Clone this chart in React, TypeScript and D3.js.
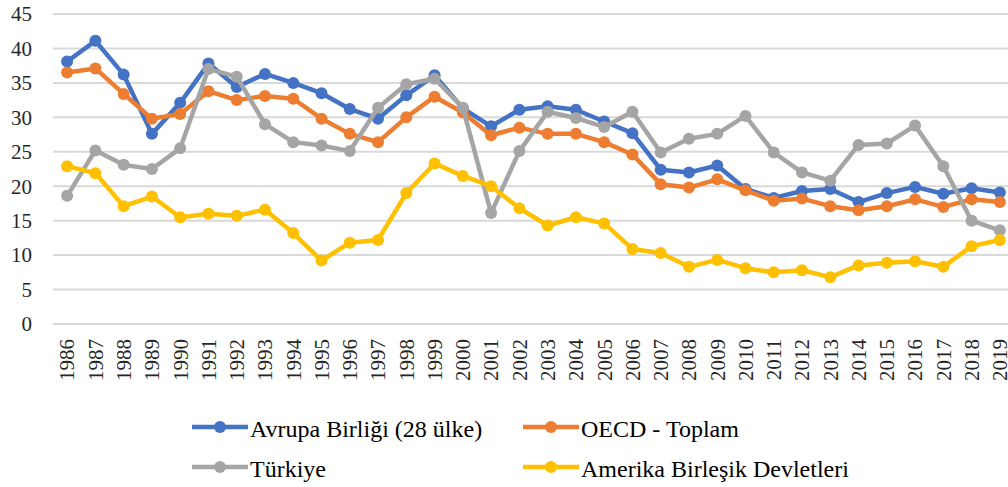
import React, { useEffect, useRef } from 'react';
import * as d3 from 'd3';

const years = [
    '1986', '1987', '1988', '1989', '1990', '1991', '1992', '1993', '1994', '1995',
    '1996', '1997', '1998', '1999', '2000', '2001', '2002', '2003', '2004', '2005',
    '2006', '2007', '2008', '2009', '2010', '2011', '2012', '2013', '2014', '2015',
    '2016', '2017', '2018', '2019'
];

const yTicks = [0, 5, 10, 15, 20, 25, 30, 35, 40, 45];

const avrupa = [38.1, 41.1, 36.2, 27.6, 32.1, 37.8, 34.4, 36.3, 35.0, 33.5, 31.2, 29.8, 33.2, 36.1, 31.3, 28.7, 31.1, 31.6, 31.1, 29.4, 27.7, 22.4, 22.0, 23.0, 19.6, 18.3, 19.3, 19.6, 17.7, 19.0, 19.9, 18.9, 19.7, 19.1];
const oecd = [36.5, 37.1, 33.4, 29.8, 30.5, 33.8, 32.5, 33.1, 32.7, 29.8, 27.6, 26.4, 30.0, 33.0, 30.7, 27.4, 28.5, 27.6, 27.6, 26.4, 24.6, 20.3, 19.8, 21.0, 19.4, 17.9, 18.2, 17.1, 16.5, 17.1, 18.1, 17.0, 18.1, 17.7];
const turkiye = [18.6, 25.2, 23.1, 22.5, 25.5, 37.0, 35.9, 29.0, 26.4, 25.9, 25.1, 31.4, 34.8, 35.6, 31.4, 16.1, 25.1, 30.8, 29.9, 28.6, 30.8, 24.9, 26.9, 27.6, 30.2, 24.9, 22.0, 20.8, 26.0, 26.2, 28.8, 22.9, 15.0, 13.6];
const abd = [22.9, 21.9, 17.1, 18.5, 15.5, 16.0, 15.7, 16.6, 13.2, 9.2, 11.8, 12.2, 19.0, 23.3, 21.5, 20.0, 16.8, 14.3, 15.5, 14.6, 10.9, 10.3, 8.3, 9.3, 8.1, 7.5, 7.8, 6.8, 8.5, 8.9, 9.1, 8.3, 11.3, 12.2];

const seriesNames = ['Avrupa Birliği (28 ülke)', 'OECD - Toplam', 'Türkiye', 'Amerika Birleşik Devletleri'];
const seriesColors = ['#4472C4', '#ED7D31', '#A5A5A5', '#FFC000'];

const WIDTH = 1008;
const HEIGHT = 487;
const FONT = '"Times New Roman", Times, "Liberation Serif", "DejaVu Serif", "Noto Serif", serif';

const Chart = () => {
    const svgRef = useRef<SVGSVGElement>(null);

    useEffect(() => {
        const svg = d3.select(svgRef.current);
        svg.selectAll('*').remove();

        const series = [avrupa, oecd, turkiye, abd];

        // plot area runs a bit past the right edge, like the original crop
        const xScale = d3.scaleBand<string>()
            .domain(years)
            .range([53, 1014])
            .padding(0);

        const yScale = d3.scaleLinear()
            .domain([0, 45])
            .range([324, 14]);

        const cx = (i: number) => xScale(years[i])! + xScale.bandwidth() / 2;

        // gridlines
        svg.append('g')
            .selectAll('line')
            .data(yTicks)
            .enter()
            .append('line')
            .attr('x1', 53)
            .attr('x2', 1014)
            .attr('y1', d => yScale(d))
            .attr('y2', d => yScale(d))
            .attr('stroke', '#D9D9D9')
            .attr('stroke-width', 2);

        // y labels
        svg.append('g')
            .selectAll('text')
            .data(yTicks)
            .enter()
            .append('text')
            .attr('x', 32)
            .attr('y', d => yScale(d))
            .attr('dy', '0.35em')
            .attr('text-anchor', 'end')
            .attr('font-family', FONT)
            .attr('font-size', 21)
            .attr('fill', '#262626')
            .text(d => d);

        // x labels, rotated
        svg.append('g')
            .selectAll('text')
            .data(years)
            .enter()
            .append('text')
            .attr('transform', (d, i) => `translate(${cx(i)},339) rotate(-90)`)
            .attr('dy', '0.35em')
            .attr('text-anchor', 'end')
            .attr('font-family', FONT)
            .attr('font-size', 21)
            .attr('fill', '#262626')
            .text(d => d);

        const line = d3.line<number>()
            .x((d, i) => cx(i))
            .y(d => yScale(d));

        series.forEach((values, s) => {
            const g = svg.append('g');
            g.append('path')
                .datum(values)
                .attr('fill', 'none')
                .attr('stroke', seriesColors[s])
                .attr('stroke-width', 4.5)
                .attr('stroke-linejoin', 'round')
                .attr('d', line);
            g.selectAll('circle')
                .data(values)
                .enter()
                .append('circle')
                .attr('cx', (d, i) => cx(i))
                .attr('cy', d => yScale(d))
                .attr('r', 6)
                .attr('fill', seriesColors[s]);
        });

        // legend, two rows of two
        const legendPos = [
            { x: 192, y: 427 },
            { x: 523, y: 427 },
            { x: 192, y: 467 },
            { x: 523, y: 467 }
        ];
        seriesNames.forEach((name, s) => {
            const p = legendPos[s];
            const g = svg.append('g').attr('transform', `translate(${p.x},${p.y})`);
            g.append('line')
                .attr('x1', 0)
                .attr('x2', 56)
                .attr('stroke', seriesColors[s])
                .attr('stroke-width', 4.5);
            g.append('circle')
                .attr('cx', 28)
                .attr('r', 6)
                .attr('fill', seriesColors[s]);
            g.append('text')
                .attr('x', 58)
                .attr('y', 10)
                .attr('font-family', FONT)
                .attr('font-size', 24)
                .attr('fill', '#000')
                .text(name);
        });
    }, []);

    return (
        <svg
            ref={svgRef}
            width={WIDTH}
            height={HEIGHT}
            style={{ position: 'absolute', left: 0, top: 0, background: '#fff', display: 'block' }}
        />
    );
};

export default function App() {
    return <Chart />;
}
